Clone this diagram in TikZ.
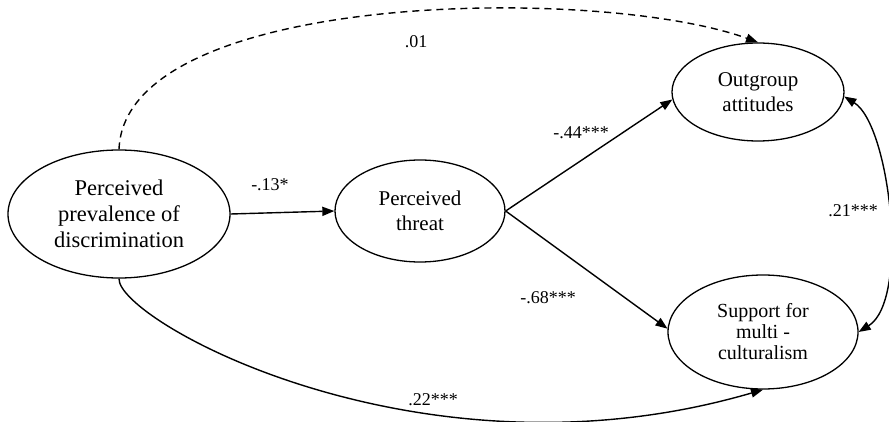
\documentclass[tikz,border=0pt]{standalone}
\usepackage{fontspec}
\setmainfont{Liberation Serif}
\usetikzlibrary{shapes.geometric,arrows.meta}
\begin{document}
\begin{tikzpicture}[x=1pt,y=-1pt,
  var/.style={draw,ellipse,line width=1.3pt,inner sep=0pt,align=center,font=\fontsize{21}{25}\selectfont},
  arr/.style={line width=1.4pt,-{Triangle[length=12pt,width=9pt]}},
  dbl/.style={line width=1.4pt,{Triangle[length=12pt,width=9pt]}-{Triangle[length=12pt,width=9pt]}},
  lab/.style={font=\fontsize{18}{20}\selectfont,inner sep=0pt}]
\useasboundingbox (0,0) rectangle (889,422);
\node[var,minimum width=222pt,minimum height=128pt,font=\fontsize{22.5}{26}\selectfont] (l) at (119,214) {Perceived\\prevalence of\\discrimination};
\node[var,minimum width=170pt,minimum height=102pt] (t) at (420,211) {Perceived\\threat};
\node[var,minimum width=172pt,minimum height=98pt] (o) at (758,92) {Outgroup\\attitudes};
\node[var,minimum width=190pt,minimum height=114pt,font=\fontsize{20}{21}\selectfont] (s) at (763,332) {Support for\\multi -\\culturalism};
\draw[arr] (l.east) -- (t.west);
\draw[arr] (t.east) -- (o.185);
\draw[arr] (t.east) -- (s.178);
\draw[arr,dash pattern=on 7pt off 5pt] (l.north) .. controls (125,-10) and (600,-15) .. (o.north);
\draw[arr] (l.south) .. controls (117,320) and (420,490) .. (s.south);
\draw[dbl] (o.357) .. controls (890,125) and (910,300) .. (s.east);
\node[lab] (l01) at (416,42) {.01};
\node[lab] (l13) at (270,185) {-.13*};
\node[lab] (l44) at (581,133) {-.44***};
\node[lab] (l68) at (548,298) {-.68***};
\node[lab] (l22) at (433,400) {.22***};
\node[lab] (l21) at (853,211) {.21***};
\end{tikzpicture}
\end{document}
